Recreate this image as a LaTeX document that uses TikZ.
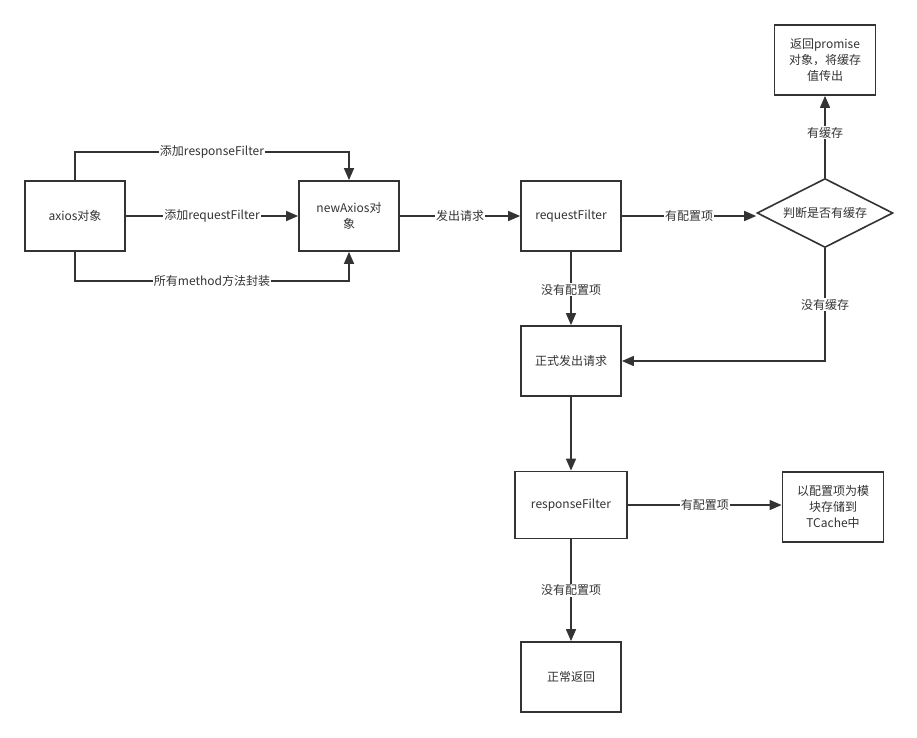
\documentclass[tikz,border=0pt]{standalone}
\usepackage{fontspec}
\setmainfont{Noto Sans CJK SC}
\usetikzlibrary{arrows.meta,shapes.geometric}
\definecolor{ink}{HTML}{333333}
\tikzset{
  box/.style={draw=ink, line width=1.8pt, fill=white, align=center, inner sep=2pt, text=ink, font=\fontsize{12}{16}\selectfont},
  conn/.style={draw=ink, line width=1.6pt, -{Triangle[length=12pt,width=10pt]}},
  lbl/.style={fill=white, text=ink, inner sep=1pt, font=\fontsize{12}{14}\selectfont},
}
\begin{document}
\begin{tikzpicture}[x=1pt,y=-1pt]
\useasboundingbox (0,0) rectangle (917,737);
% boxes
\node[box, minimum width=100pt, minimum height=70pt] (axios) at (75,216) {axios对象};
\node[box, minimum width=100pt, minimum height=70pt] (newax) at (349,216) {newAxios对\\象};
\node[box, minimum width=100pt, minimum height=70pt] (reqf) at (571,216) {requestFilter};
\node[draw=ink, line width=1.6pt, diamond, aspect=2, fill=white, text=ink, font=\fontsize{12}{14}\selectfont,
      minimum width=136pt, minimum height=69pt, inner sep=0pt] (dia) at (825,213) {判断是否有缓存};
\node[box, minimum width=101pt, minimum height=70pt] (prom) at (825,60) {返回promise\\对象，将缓存\\值传出};
\node[box, minimum width=100pt, minimum height=70pt] (send) at (571,361) {正式发出请求};
\node[box, minimum width=112pt, minimum height=67pt] (resf) at (571,505) {responseFilter};
\node[box, minimum width=101pt, minimum height=70pt] (tc) at (833,507) {以配置项为模\\块存储到\\TCache中};
\node[box, minimum width=100pt, minimum height=70pt] (ret) at (571,677) {正常返回};
% coordinates for bends
\coordinate (c1) at (75,152);
\coordinate (c2) at (349,152);
\coordinate (c3) at (75,281);
\coordinate (c4) at (349,281);
\coordinate (c5) at (825,361);
% connectors
\draw[conn] (axios.north) -- (c1) -- node[lbl, pos=0.5]{添加responseFilter} (c2) -- (newax.north);
\draw[conn] (axios.east) -- node[lbl]{添加requestFilter} (newax.west);
\draw[conn] (axios.south) -- (c3) -- node[lbl, pos=0.5]{所有method方法封装} (c4) -- (newax.south);
\draw[conn] (newax.east) -- node[lbl]{发出请求} (reqf.west);
\draw[conn] (reqf.east) -- node[lbl]{有配置项} (reqf.east -| dia.west);
\draw[conn] (dia.north) -- node[lbl, pos=0.55]{有缓存} (prom.south);
\draw[conn] (reqf.south) -- node[lbl, pos=0.52]{没有配置项} (send.north);
\draw[conn] (dia.south) -- node[lbl, pos=0.5]{没有缓存} (c5) -- (send.east);
\draw[conn] (send.south) -- (resf.north);
\draw[conn] (resf.east) -- node[lbl]{有配置项} (resf.east -| tc.west);
\draw[conn] (resf.south) -- node[lbl, pos=0.5]{没有配置项} (ret.north);
\end{tikzpicture}
\end{document}
